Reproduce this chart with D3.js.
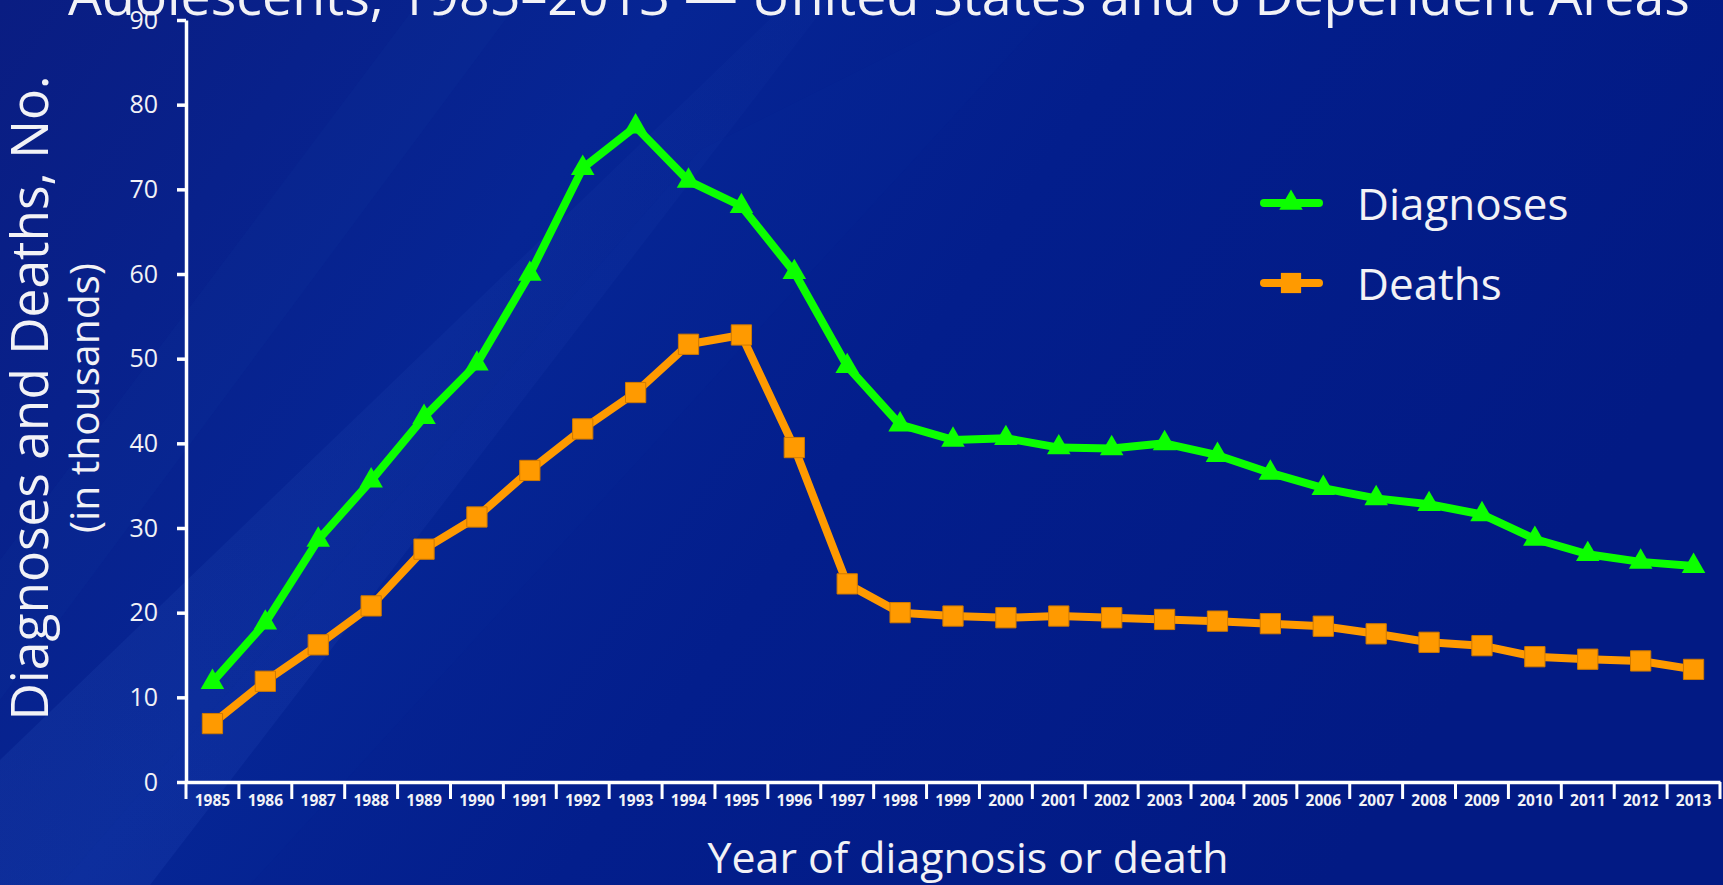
<!DOCTYPE html>
<html>
<head>
<meta charset="utf-8">
<script src="https://cdn.jsdelivr.net/npm/d3@7"></script>
<style>
  html, body { margin: 0; padding: 0; background: #031c88; overflow: hidden; }
  svg { display: block; }
  text { font-family: "Open Sans", "DejaVu Sans", sans-serif; fill: #f2f2f6; }
</style>
</head>
<body>
<svg id="chart" width="1723" height="885"></svg>
<script>
// ---------- data ----------
const years = [1985,1986,1987,1988,1989,1990,1991,1992,1993,1994,1995,1996,1997,1998,1999,
               2000,2001,2002,2003,2004,2005,2006,2007,2008,2009,2010,2011,2012,2013];
const diagnoses = [11.8,18.8,28.6,35.6,43.1,49.4,60.0,72.5,77.4,71.0,68.0,60.2,49.1,42.2,40.4,
                   40.6,39.5,39.4,40.0,38.6,36.5,34.7,33.5,32.8,31.6,28.7,26.9,26.0,25.5];
const deaths = [6.9,11.9,16.2,20.8,27.5,31.3,36.8,41.7,46.0,51.7,52.8,39.5,23.4,20.0,19.6,
                19.4,19.6,19.4,19.2,19.0,18.7,18.4,17.5,16.5,16.1,14.8,14.5,14.3,13.3];
const yTicks = [0,10,20,30,40,50,60,70,80,90];
const seriesNames = ["Diagnoses", "Deaths"];
const titleText = "Adolescents, 1985\u20132013 \u2014 United States and 6 Dependent Areas";
const xTitle = "Year of diagnosis or death";
const yTitle = "Diagnoses and Deaths, No.";
const ySubTitle = "(in thousands)";

// ---------- setup ----------
const W = 1723, H = 885;
const svg = d3.select("#chart");
const GREEN = "#0cff00", ORANGE = "#ff9a00";

// background
const defs = svg.append("defs");
const bg = defs.append("linearGradient").attr("id","bg")
  .attr("x1","0").attr("y1","0").attr("x2","1").attr("y2","0.35");
bg.append("stop").attr("offset","0").attr("stop-color","#0a1d82");
bg.append("stop").attr("offset","0.35").attr("stop-color","#062594");
bg.append("stop").attr("offset","0.6").attr("stop-color","#031e8c");
bg.append("stop").attr("offset","1").attr("stop-color","#021a84");
svg.append("rect").attr("width",W).attr("height",H).attr("fill","url(#bg)");
const streak = defs.append("linearGradient").attr("id","streak")
  .attr("x1","0").attr("y1","1").attr("x2","1").attr("y2","0");
streak.append("stop").attr("offset","0").attr("stop-color","#3a6ad0").attr("stop-opacity","0.14");
streak.append("stop").attr("offset","1").attr("stop-color","#3a6ad0").attr("stop-opacity","0.03");
svg.append("path").attr("d","M0,885 L0,760 L790,0 L830,0 L150,885 Z").attr("fill","url(#streak)");
svg.append("path").attr("d","M0,700 L0,560 L420,0 L520,0 Z").attr("fill","#2f5cc4").attr("opacity",0.05);
svg.append("path").attr("d","M60,885 L700,150 L1000,0 L1060,0 L250,885 Z").attr("fill","#1c40b0").attr("opacity",0.05);

// fit text to a target width
function fit(sel, width) {
  const node = sel.node();
  const fs = parseFloat(sel.attr("font-size"));
  const len = node.getComputedTextLength();
  if (len > 0) sel.attr("font-size", (fs * width / len).toFixed(2));
  return sel;
}

// ---------- scales ----------
const x = d3.scaleBand().domain(years).range([186, 1720]).padding(0);
const y = d3.scaleLinear().domain([0, 90]).range([782, 20]);
const cx = d => x(d) + x.bandwidth() / 2;

// title (clipped at top)
fit(svg.append("text").attr("x", 68).attr("y", 15).attr("font-size", 54).text(titleText), 1622);

// ---------- axes ----------
const yAxis = d3.axisLeft(y).tickValues(yTicks).tickSize(9).tickPadding(19).tickSizeOuter(0);
const gy = svg.append("g").attr("transform","translate(186,0)").call(yAxis);
gy.select(".domain").attr("stroke","#fff").attr("stroke-width",3.5);
gy.selectAll(".tick line").attr("stroke","#fff").attr("stroke-width",3.5);
gy.selectAll(".tick text").attr("font-size",25).attr("fill","#f2f2f6")
  .attr("font-family","'Open Sans', sans-serif");

const xAxis = d3.axisBottom(x).tickSize(0).tickPadding(20).tickSizeOuter(0);
const gx = svg.append("g").attr("transform","translate(0,782)").call(xAxis);
gx.select(".domain").attr("stroke","#fff").attr("stroke-width",3.5);
gx.selectAll(".tick text").attr("font-size",15.5).attr("font-weight","bold")
  .attr("fill","#f2f2f6").attr("font-family","'Open Sans', sans-serif").attr("dy","0.72em")
  .attr("y", 13);
// band boundary ticks
const bounds = years.map(d => x(d)).concat([x.range()[1]]);
svg.append("g").selectAll("line").data(bounds).join("line")
  .attr("x1", d => d).attr("x2", d => d).attr("y1", 782).attr("y2", 799)
  .attr("stroke","#fff").attr("stroke-width",3);

// axis titles
fit(svg.append("text").attr("x", 968).attr("y", 873).attr("text-anchor","middle")
  .attr("font-size", 43).text(xTitle), 521);
fit(svg.append("text").attr("transform","translate(48,398) rotate(-90)")
  .attr("text-anchor","middle").attr("font-size", 50).text(yTitle), 645);
fit(svg.append("text").attr("transform","translate(99,398) rotate(-90)")
  .attr("text-anchor","middle").attr("font-size", 36).text(ySubTitle), 270);

// ---------- series ----------
const line = d3.line().x((d,i) => cx(years[i])).y(d => y(d));
const tri = d3.symbol().type(d3.symbolTriangle).size(240);
const sq = d3.symbol().type(d3.symbolSquare).size(410);

svg.append("path").datum(deaths).attr("d", line).attr("fill","none")
  .attr("stroke", ORANGE).attr("stroke-width", 8).attr("stroke-linejoin","round");
svg.append("g").selectAll("path").data(deaths).join("path")
  .attr("d", sq).attr("transform", (d,i) => `translate(${cx(years[i])},${y(d)})`)
  .attr("fill", ORANGE).attr("stroke","#d07a00").attr("stroke-width",1);

svg.append("path").datum(diagnoses).attr("d", line).attr("fill","none")
  .attr("stroke", GREEN).attr("stroke-width", 8).attr("stroke-linejoin","round");
svg.append("g").selectAll("path").data(diagnoses).join("path")
  .attr("d", tri).attr("transform", (d,i) => `translate(${cx(years[i])},${y(d)})`)
  .attr("fill", GREEN);

// ---------- legend ----------
const legend = [
  {name: seriesNames[0], color: GREEN, sym: tri, y: 203},
  {name: seriesNames[1], color: ORANGE, sym: sq, y: 283}
];
const lg = svg.append("g").selectAll("g").data(legend).join("g")
  .attr("transform", d => `translate(0,${d.y})`);
lg.append("line").attr("x1", 1264).attr("x2", 1319).attr("y1",0).attr("y2",0)
  .attr("stroke", d => d.color).attr("stroke-width", 8).attr("stroke-linecap","round");
lg.append("path").attr("d", d => d.sym()).attr("transform","translate(1291,0)")
  .attr("fill", d => d.color);
lg.append("text").attr("x", 1357).attr("y", 17).attr("font-size", 44).text(d => d.name);
</script>
</body>
</html>
